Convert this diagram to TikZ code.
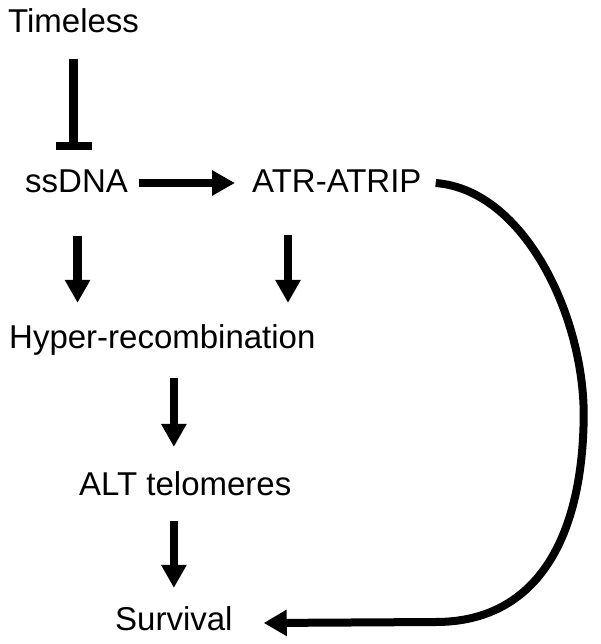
\documentclass[tikz,border=0pt]{standalone}
\usepackage{fontspec}
\setmainfont{Liberation Sans}
\usetikzlibrary{arrows.meta,calc}
\begin{document}
\begin{tikzpicture}[x=1bp,y=-1bp,
  lbl/.style={inner sep=0pt, anchor=base west, font=\fontsize{33bp}{40bp}\selectfont},
  arr/.style={line width=8.5bp, -{Triangle[length=23bp,width=24bp]}},
  inh/.style={line width=8.5bp, -{Bar[width=36bp,line width=8bp]}},
  curv/.style={line width=8bp, -{Triangle[length=23bp,width=25bp]}}]
\useasboundingbox (0,0) rectangle (601,644);
\node[lbl] (tl) at (8,33) {Timeless};
\node[lbl] (ss) at (25,193) {ssDNA};
\node[lbl] (atr) at (252,193) {ATR-ATRIP};
\node[lbl] (hyp) at (9,348) {Hyper-recombination};
\node[lbl] (alt) at (79,495) {ALT telomeres};
\node[lbl] (surv) at (115,630) {Survival};
% inhibition
\draw[inh, shorten <=25bp, shorten >=20bp] (tl.south) -- (tl.south |- ss.north);
% ssDNA -> ATR-ATRIP
\draw[arr] ($(ss.base east)+(11,-10)$) -- ($(atr.base west)+(-17,-10)$);
% down arrows
\coordinate (ssd) at ([xshift=1bp]ss.south);
\draw[arr, shorten <=42bp, shorten >=21bp] (ssd) -- (ssd |- hyp.north);
\coordinate (atrd) at ([xshift=36bp]atr.base west);
\draw[arr, shorten <=42bp, shorten >=21bp] (atrd) -- (atrd |- hyp.north);
\coordinate (hypd) at (surv.north |- hyp.south);
\draw[arr, shorten <=23bp, shorten >=24bp] (hypd) -- (hypd |- alt.north);
\coordinate (altd) at (surv.north |- alt.south);
\draw[arr, shorten <=25bp, shorten >=18bp] (altd) -- (surv.north);
% curved connector
\coordinate (cs) at ($(atr.base east)+(14,-10)$);
\coordinate (ce) at ($(surv.base east)+(31,-7)$);
\draw[curv] (cs) .. controls ($(cs)+(90,7)$) and ($(cs)+(150,137)$) .. ($(cs)+(148,237)$)
  .. controls ($(cs)+(146,357)$) and ($(cs)+(100,439)$) .. ($(cs)+(0,439)$) -- (ce);
\end{tikzpicture}
\end{document}
